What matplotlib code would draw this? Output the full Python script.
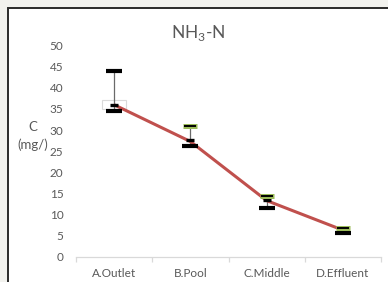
import matplotlib
matplotlib.use("Agg")
import matplotlib.pyplot as plt
from matplotlib.patches import Rectangle

plt.rcParams['font.family'] = ['Lato', 'DejaVu Sans']

categories = ["A.Outlet", "B.Pool", "C.Middle", "D.Effluent"]
line_vals = [36.0, 27.3, 13.3, 6.3]
mean_vals = [36.0, 27.6, 13.4, 6.2]
high_vals = [44.0, 31.0, 14.5, 6.8]
low_vals = [34.6, 26.2, 11.5, 5.6]
high_green = [False, True, True, True]

W, H = 388, 282
fig = plt.figure(figsize=(W / 100, H / 100), dpi=100)
fig.patch.set_facecolor('#f2f2ee')

# background axes holding the chart frame
bg = fig.add_axes([0, 0, 1, 1], zorder=-5)
bg.set_xlim(0, W)
bg.set_ylim(H, 0)
bg.axis('off')
bg.add_patch(Rectangle((8, 8), W + 20, H + 20, facecolor='white',
                       edgecolor='#2a2a2a', linewidth=1.4))

ax = fig.add_axes([76 / W, (H - 256.7) / H, 305 / W, 211 / H], zorder=1)
ax.set_facecolor('none')
x = list(range(len(categories)))

# high-low lines
ax.vlines(x, low_vals, high_vals, color='#6a6a6a', linewidth=0.9, zorder=2)

# selection box artifact around A mean
ax.add_patch(Rectangle((x[0] - 0.157, mean_vals[0] - 1.05), 0.314, 2.1,
                       facecolor='none', edgecolor='#dadada', linewidth=0.8, zorder=1))

# red line
ax.plot(x, line_vals, color='#c0504d', linewidth=2.2, zorder=3, solid_capstyle='butt')

# mean dashes
ax.plot(x, mean_vals, linestyle='none', marker='_', markersize=5.2,
        markeredgewidth=2.4, color='black', zorder=4)

# low markers
ax.plot(x, low_vals, linestyle='none', marker='_', markersize=11.2,
        markeredgewidth=3.0, color='black', zorder=4)

# high markers
for xi, hv, g in zip(x, high_vals, high_green):
    if g:
        ax.plot([xi], [hv], linestyle='none', marker='_', markersize=10.6,
                markeredgewidth=3.6, color='#9bbb59', zorder=4)
        ax.plot([xi], [hv], linestyle='none', marker='_', markersize=8.6,
                markeredgewidth=1.4, color='black', zorder=5)
    else:
        ax.plot([xi], [hv], linestyle='none', marker='_', markersize=11.5,
                markeredgewidth=3.0, color='black', zorder=4)

ax.set_xlim(-0.5, 3.5)
ax.set_ylim(0, 50)
ax.set_yticks(range(0, 51, 5))
ax.set_xticks(x)
ax.set_xticklabels(categories)
ax.set_xticks([-0.5, 0.5, 1.5, 2.5, 3.5], minor=True)

for s in ['top', 'right', 'left']:
    ax.spines[s].set_visible(False)
ax.spines['bottom'].set_color('#d9d9d9')
ax.spines['bottom'].set_linewidth(0.9)

ax.tick_params(axis='y', length=0, pad=9, labelsize=8.5, labelcolor='#595959')
ax.tick_params(axis='x', which='major', length=0, pad=8, labelsize=8.5, labelcolor='#595959')
ax.tick_params(axis='x', which='minor', length=3.6, width=0.9, color='#d9d9d9')

fig.text(198 / W, 1 - 33 / H, r"NH$_\mathregular{3}$-N", ha='center', va='center',
         fontsize=12.5, color='#595959')
fig.text(33 / W, 1 - 136 / H, "C\n(mg/)", ha='center', va='center', fontsize=9.5,
         color='#595959', linespacing=1.45, multialignment='center')

fig.savefig('out.png', dpi=100, facecolor=fig.get_facecolor())
